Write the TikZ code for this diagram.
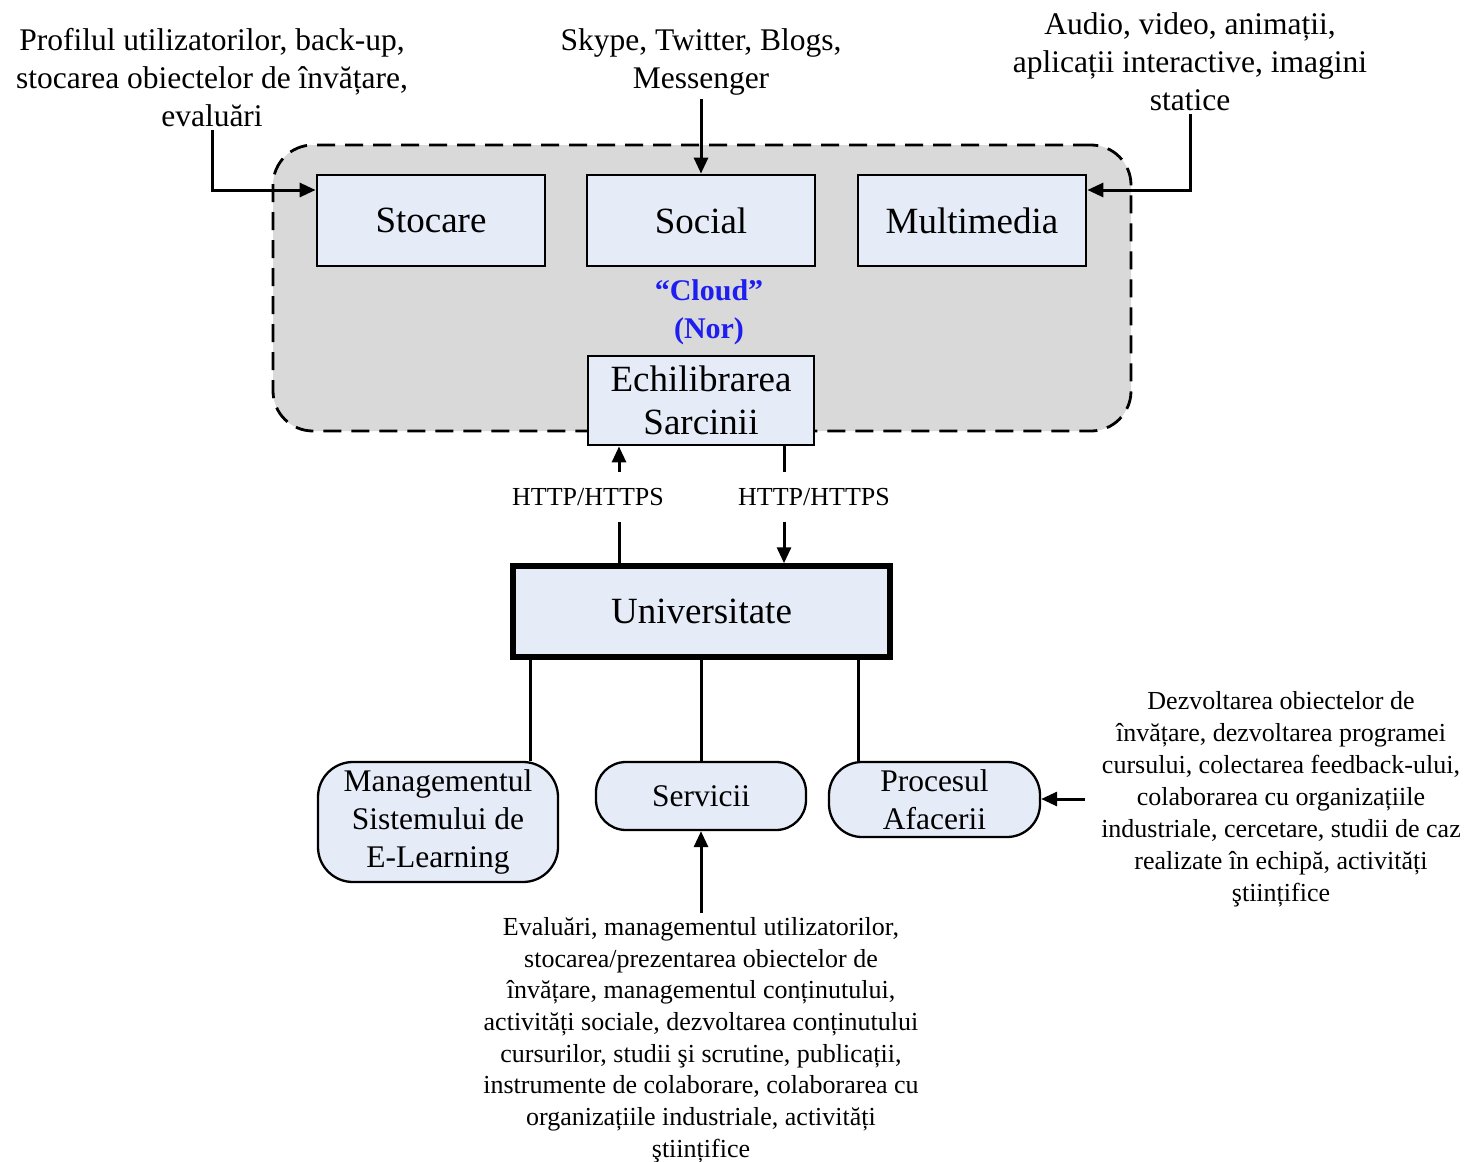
\documentclass[tikz,border=0pt]{standalone}
\usepackage{fontspec}
\setmainfont{Liberation Serif}
\usetikzlibrary{arrows.meta}
\definecolor{boxfill}{RGB}{230,236,247}
\definecolor{cloudgray}{RGB}{217,217,217}
\definecolor{cloudblue}{RGB}{30,30,240}
\begin{document}
\begin{tikzpicture}[x=1pt,y=-1pt,
  sqbox/.style={draw, line width=2.8pt, fill=boxfill, inner sep=0pt, align=center,
    minimum width=228pt, minimum height=91pt, font=\fontsize{37}{42.5}\selectfont},
  unibox/.style={draw, line width=5.5pt, fill=boxfill, inner sep=0pt, align=center,
    minimum width=377pt, minimum height=91pt, font=\fontsize{37}{42.5}\selectfont},
  rbox/.style={draw, line width=2.3pt, fill=boxfill, inner sep=0pt, align=center,
    font=\fontsize{31.5}{38}\selectfont},
  cloudbox/.style={draw, line width=2.8pt, dash pattern=on 18pt off 10pt, fill=cloudgray,
    rounded corners=40pt, minimum width=858pt, minimum height=286pt},
  toptext/.style={align=center, inner sep=3pt, font=\fontsize{31.5}{38}\selectfont},
  smalltext/.style={align=center, inner sep=4pt, font=\fontsize{26}{32}\selectfont},
  httplbl/.style={inner sep=0pt, font=\fontsize{26}{30}\selectfont},
  cloudlbl/.style={align=center, text=cloudblue, inner sep=0pt, font=\bfseries\fontsize{30}{38}\selectfont},
  conn/.style={line width=3pt},
  arr/.style={line width=3pt, -{Triangle[length=16pt,width=14pt]}}
]
\path[fill=white, use as bounding box] (0,0) rectangle (1468,1162);

% cloud region
\node[cloudbox] (cloud) at (702,288) {};

% cloud boxes
\node[sqbox] (sto) at (431,220.5) {Stocare};
\node[sqbox] (soc) at (701,220.5) {Social};
\node[sqbox] (mul) at (972,220.5) {Multimedia};
\node[cloudlbl] (cl) at (709,312) {“Cloud”\\(Nor)};
\node[sqbox, minimum width=226pt, minimum height=89pt] (ech) at (701,400.5) {Echilibrarea\\Sarcinii};

% university
\node[unibox] (uni) at (701.5,611.5) {Universitate};

% lower boxes
\node[rbox, minimum width=240pt, minimum height=120pt, rounded corners=35pt] (mse) at (438,822) {Managementul\\Sistemului de\\E-Learning};
\node[rbox, minimum width=210pt, minimum height=68pt, rounded corners=30pt] (ser) at (701,796) {Servicii};
\node[rbox, minimum width=211pt, minimum height=75pt, rounded corners=33pt] (pa) at (934.5,799.5) {Procesul\\Afacerii};

% top texts
\node[toptext] (tl) at (212,78) {Profilul utilizatorilor, back-up,\\stocarea obiectelor de învățare,\\evaluări};
\node[toptext] (tm) at (701,62) {Skype, Twitter, Blogs,\\Messenger};
\node[toptext] (tr) at (1190,62) {Audio, video, animații,\\aplicații interactive, imagini\\statice};

% side / bottom texts
\node[smalltext] (rt) at (1281,799) {Dezvoltarea obiectelor de\\învățare, dezvoltarea programei\\cursului, colectarea feedback-ului,\\colaborarea cu organizațiile\\industriale, cercetare, studii de caz\\realizate în echipă, activități\\ştiințifice};
\node[smalltext, font=\fontsize{26}{31.7}\selectfont] (bt) at (701,1040) {Evaluări, managementul utilizatorilor,\\stocarea/prezentarea obiectelor de\\învățare, managementul conținutului,\\activități sociale, dezvoltarea conținutului\\cursurilor, studii şi scrutine, publicații,\\instrumente de colaborare, colaborarea cu\\organizațiile industriale, activități\\ştiințifice};

% HTTP labels
\node[httplbl] (h1) at (588,497) {HTTP/HTTPS};
\node[httplbl] (h2) at (814,497) {HTTP/HTTPS};

% connectors top
\coordinate (tlk) at (212,190);
\draw[arr] (tl.south) -- (tlk) -- (sto.west |- tlk);
\draw[arr] (tm.south) -- (soc.north);
\coordinate (trk) at (1190,190);
\draw[arr] (tr.south) -- (trk) -- (mul.east |- trk);

% HTTP connectors
\coordinate (a1) at (619,522);
\coordinate (a2) at (619,472);
\draw[conn] (uni.north -| a1) -- (a1);
\draw[arr] (a2) -- (ech.south -| a2);
\coordinate (b1) at (784,472);
\coordinate (b2) at (784,522);
\draw[conn] (ech.south -| b1) -- (b1);
\draw[arr] (b2) -- (uni.north -| b2);

% university to lower boxes
\coordinate (c1) at (530,700);
\coordinate (c2) at (701,700);
\coordinate (c3) at (858,700);
\draw[conn] (uni.south -| c1) -- (mse.north -| c1);
\draw[conn] (uni.south -| c2) -- (ser.north -| c2);
\draw[conn] (uni.south -| c3) -- (pa.north -| c3);

% inputs to lower boxes
\coordinate (rk) at (1085,799);
\draw[arr] (rk) -- (pa.east |- rk);
\draw[arr] (bt.north -| ser.south) -- (ser.south);
\end{tikzpicture}
\end{document}
